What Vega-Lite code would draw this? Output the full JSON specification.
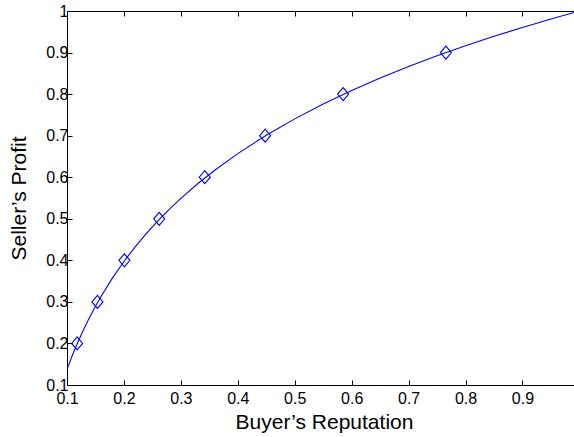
{
  "$schema": "https://vega.github.io/schema/vega-lite/v6.json",
  "width": 507,
  "height": 374,
  "autosize": {"type": "none"},
  "padding": {"left": 67, "top": 11, "right": 0, "bottom": 52},
  "background": "white",
  "config": {
    "view": {"stroke": null},
    "font": "Liberation Sans",
    "axis": {
      "domainColor": "black",
      "tickColor": "black",
      "labelColor": "black",
      "titleColor": "black",
      "domainWidth": 1,
      "tickWidth": 1,
      "grid": false,
      "labelFont": "Liberation Sans",
      "titleFont": "Liberation Sans",
      "labelFontSize": 16,
      "titleFontSize": 21,
      "titleFontWeight": "normal",
      "labelFlush": false,
      "labelOverlap": false,
      "tickSize": -5
    }
  },
  "datasets": {
    "curve": [
      {"rep": 0.10, "profit": 0.1377},
      {"rep": 0.11, "profit": 0.1734},
      {"rep": 0.12, "profit": 0.2060},
      {"rep": 0.13, "profit": 0.2359},
      {"rep": 0.14, "profit": 0.2637},
      {"rep": 0.15, "profit": 0.2895},
      {"rep": 0.16, "profit": 0.3137},
      {"rep": 0.18, "profit": 0.3578},
      {"rep": 0.20, "profit": 0.3973},
      {"rep": 0.22, "profit": 0.4329},
      {"rep": 0.24, "profit": 0.4655},
      {"rep": 0.26, "profit": 0.4955},
      {"rep": 0.28, "profit": 0.5233},
      {"rep": 0.30, "profit": 0.5491},
      {"rep": 0.33, "profit": 0.5848},
      {"rep": 0.36, "profit": 0.6174},
      {"rep": 0.40, "profit": 0.6568},
      {"rep": 0.45, "profit": 0.7009},
      {"rep": 0.50, "profit": 0.7404},
      {"rep": 0.55, "profit": 0.7761},
      {"rep": 0.60, "profit": 0.8087},
      {"rep": 0.65, "profit": 0.8387},
      {"rep": 0.70, "profit": 0.8664},
      {"rep": 0.75, "profit": 0.8923},
      {"rep": 0.80, "profit": 0.9164},
      {"rep": 0.85, "profit": 0.9391},
      {"rep": 0.90, "profit": 0.9605},
      {"rep": 0.95, "profit": 0.9808},
      {"rep": 1.00, "profit": 1.0}
    ],
    "markers": [
      {"rep": 0.1178, "profit": 0.2},
      {"rep": 0.1535, "profit": 0.3},
      {"rep": 0.2008, "profit": 0.4},
      {"rep": 0.2620, "profit": 0.5},
      {"rep": 0.3420, "profit": 0.6},
      {"rep": 0.4480, "profit": 0.7},
      {"rep": 0.5850, "profit": 0.8},
      {"rep": 0.7655, "profit": 0.9}
    ]
  },
  "layer": [
    {
      "data": {"name": "curve"},
      "mark": {"type": "line", "color": "#0000ff", "strokeWidth": 1.1, "clip": true},
      "encoding": {
        "x": {
          "field": "rep", "type": "quantitative",
          "scale": {"domain": [0.1, 0.9905], "nice": false, "zero": false},
          "axis": {"orient": "bottom", "values": [0.1, 0.2, 0.3, 0.4, 0.5, 0.6, 0.7, 0.8, 0.9], "format": ".1~f", "title": "Buyer’s Reputation", "labelPadding": 10, "titlePadding": 5, "titleX": 257}
        },
        "y": {
          "field": "profit", "type": "quantitative",
          "scale": {"domain": [0.1, 1], "nice": false, "zero": false},
          "axis": {"values": [0.1, 0.2, 0.3, 0.4, 0.5, 0.6, 0.7, 0.8, 0.9, 1], "format": ".1~f", "title": "Seller’s Profit", "labelPadding": 4, "titlePadding": 16}
        }
      }
    },
    {
      "data": {"name": "markers"},
      "mark": {"type": "point", "shape": "M0,-1L0.85,0L0,1L-0.85,0Z", "filled": false, "stroke": "#0000ff", "strokeWidth": 1.1, "size": 169, "opacity": 1},
      "encoding": {
        "x": {
          "field": "rep", "type": "quantitative",
          "axis": {"orient": "top", "values": [0.1, 0.2, 0.3, 0.4, 0.5, 0.6, 0.7, 0.8, 0.9], "labels": false, "title": null}
        },
        "y": {"field": "profit", "type": "quantitative"}
      }
    }
  ],
  "resolve": {"axis": {"x": "independent"}}
}
